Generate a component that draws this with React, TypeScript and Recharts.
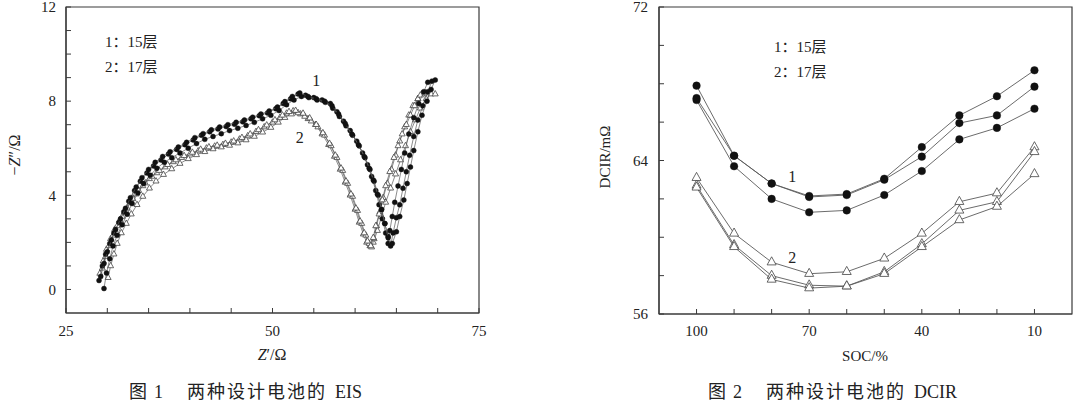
import React from 'react';
import {
  ComposedChart,
  Scatter,
  XAxis,
  YAxis,
  ReferenceArea,
  ReferenceDot,
} from 'recharts';

const SERIF = "'Liberation Serif', Tinos, 'DejaVu Serif', serif, 'Noto Sans CJK SC'";
const AXIS = '#3a3a3a';
const LINE = '#5a5a5a';
const TEXT = '#222';

// ---- 图1 EIS：Z' / -Z''（Ω），15层（实心圆）3只，17层（空心三角）3只 ----
const eisXTicks = [25, 30, 35, 40, 45, 50, 55, 60, 65, 70, 75];
const eisXLabels = [25, 50, 75];
const eisYTicks = [0, 1, 2, 3, 4, 5, 6, 7, 8, 9, 10, 11, 12];
const eisYLabels = [0, 4, 8, 12];

const re15a = [29.0, 29.4, 29.8, 30.3, 30.8, 31.4, 32.0, 32.6, 33.3, 34.0, 34.8, 35.6, 36.5, 37.4, 38.4, 39.4, 40.4, 41.4, 42.4, 43.4, 44.4, 45.4, 46.4, 47.4, 48.4, 49.4, 50.4, 51.3, 52.2, 53.1, 54.0, 55.0, 56.0, 57.0, 57.8, 58.6, 59.4, 60.2, 60.9, 61.5, 62.0, 62.5, 62.9, 63.3, 63.7, 64.0, 64.2, 64.5, 64.8, 65.2, 65.6, 66.0, 66.5, 67.1, 67.7, 68.3, 68.8];
const im15a = [0.38, 1.0, 1.5, 1.95, 2.4, 2.85, 3.3, 3.75, 4.2, 4.6, 4.95, 5.25, 5.5, 5.75, 5.95, 6.15, 6.35, 6.55, 6.7, 6.82, 6.92, 7.02, 7.12, 7.25, 7.38, 7.5, 7.68, 7.9, 8.1, 8.3, 8.25, 8.15, 8.05, 7.9, 7.55, 7.15, 6.75, 6.3, 5.8, 5.3, 4.8, 4.2, 3.6, 3.0, 2.4, 1.95, 2.5, 3.1, 3.7, 4.4, 5.1, 5.8, 6.6, 7.3, 7.9, 8.4, 8.8];

const re15b = [29.6, 29.9, 30.3, 30.7, 31.2, 31.8, 32.4, 33.0, 33.7, 34.4, 35.2, 36.0, 36.9, 37.8, 38.8, 39.8, 40.8, 41.8, 42.8, 43.8, 44.8, 45.8, 46.8, 47.8, 48.8, 49.8, 50.8, 51.7, 52.6, 53.5, 54.4, 55.4, 56.4, 57.3, 58.1, 58.9, 59.7, 60.5, 61.2, 61.8, 62.3, 62.8, 63.2, 63.6, 64.0, 64.3, 64.6, 65.0, 65.4, 65.8, 66.2, 66.6, 67.1, 67.6, 68.2, 68.8, 69.3];
const im15b = [0.04, 0.7, 1.3, 1.85, 2.3, 2.75, 3.2, 3.65, 4.1, 4.5, 4.85, 5.15, 5.4, 5.6, 5.8, 6.0, 6.2, 6.38, 6.5, 6.62, 6.75, 6.85, 6.97, 7.1, 7.25, 7.4, 7.6, 7.85, 8.05, 8.2, 8.15, 8.05, 7.95, 7.7, 7.35, 6.95, 6.55, 6.1, 5.6, 5.1, 4.6, 4.0, 3.4, 2.8, 2.25, 1.85, 2.4, 3.05, 3.6, 4.3, 5.0, 5.7, 6.5, 7.2, 7.8, 8.4, 8.85];

const re15c = [29.2, 29.6, 30.0, 30.5, 31.0, 31.6, 32.2, 32.8, 33.5, 34.2, 35.0, 35.8, 36.7, 37.6, 38.6, 39.6, 40.6, 41.6, 42.6, 43.6, 44.6, 45.6, 46.6, 47.6, 48.6, 49.6, 50.6, 51.5, 52.4, 53.3, 54.3, 55.3, 56.3, 57.2, 58.0, 58.8, 59.6, 60.4, 61.1, 61.7, 62.2, 62.7, 63.2, 63.6, 64.0, 64.5, 65.0, 65.4, 65.9, 66.3, 66.7, 67.1, 67.6, 68.1, 68.7, 69.2, 69.7];
const im15c = [0.55, 1.1, 1.6, 2.1, 2.55, 3.0, 3.45, 3.9, 4.35, 4.75, 5.1, 5.4, 5.65, 5.85, 6.05, 6.25, 6.45, 6.62, 6.78, 6.9, 7.0, 7.1, 7.2, 7.32, 7.45, 7.58, 7.75, 7.98, 8.2, 8.35, 8.2, 8.1, 8.0, 7.8, 7.45, 7.05, 6.6, 6.15, 5.65, 5.15, 4.65, 4.05, 3.4, 2.8, 2.2, 1.95, 2.45, 3.1, 3.8, 4.5, 5.2, 5.9, 6.7, 7.4, 8.0, 8.5, 8.9];

const re17a = [29.1, 29.5, 29.9, 30.4, 30.9, 31.5, 32.1, 32.8, 33.5, 34.3, 35.1, 36.0, 37.0, 38.0, 39.0, 40.0, 41.0, 42.0, 43.0, 44.0, 45.0, 46.0, 47.0, 48.0, 49.0, 50.0, 50.9, 51.7, 52.5, 53.4, 54.3, 55.2, 56.0, 56.8, 57.5, 58.2, 58.8, 59.4, 60.0, 60.5, 61.0, 61.4, 61.8, 62.2, 62.7, 63.2, 63.7, 64.3, 64.9, 65.5, 66.1, 66.7, 67.3, 67.9, 68.6, 69.2, 69.7];
const im17a = [0.68, 1.2, 1.7, 2.15, 2.55, 2.95, 3.3, 3.7, 4.05, 4.4, 4.7, 4.95, 5.2, 5.42, 5.6, 5.75, 5.88, 6.0, 6.08, 6.15, 6.25, 6.38, 6.52, 6.7, 6.9, 7.1, 7.3, 7.48, 7.58, 7.45, 7.25, 7.0, 6.6, 6.15, 5.65, 5.1, 4.55, 4.0, 3.4, 2.85, 2.35, 2.0, 1.85, 2.0, 2.5, 3.1, 3.7, 4.3, 4.9, 5.5, 6.1, 6.7, 7.2, 7.7, 8.1, 8.3, 8.3];

const re17b = [30.1, 30.4, 30.8, 31.2, 31.7, 32.3, 32.9, 33.6, 34.3, 35.1, 35.9, 36.8, 37.8, 38.8, 39.8, 40.8, 41.8, 42.8, 43.8, 44.8, 45.8, 46.8, 47.8, 48.8, 49.8, 50.7, 51.5, 52.3, 53.1, 53.9, 54.7, 55.5, 56.3, 57.1, 57.8, 58.5, 59.1, 59.7, 60.3, 60.8, 61.3, 61.7, 62.0, 62.3, 62.6, 63.0, 63.4, 63.9, 64.4, 64.9, 65.4, 66.0, 66.5, 67.0, 67.6, 68.1, 68.5];
const im17b = [0.5, 1.0, 1.5, 1.95, 2.4, 2.8, 3.2, 3.6, 3.95, 4.3, 4.6, 4.88, 5.12, 5.35, 5.55, 5.72, 5.85, 5.97, 6.05, 6.12, 6.22, 6.35, 6.5, 6.68, 6.88, 7.1, 7.3, 7.45, 7.5, 7.35, 7.15, 6.9, 6.55, 6.1, 5.6, 5.05, 4.5, 3.95, 3.35, 2.8, 2.3, 1.95, 1.8, 2.15, 2.7, 3.3, 3.9, 4.5, 5.1, 5.7, 6.3, 6.9, 7.4, 7.8, 8.1, 8.3, 8.35];

const re17c = [29.4, 29.8, 30.2, 30.7, 31.2, 31.8, 32.4, 33.1, 33.8, 34.6, 35.4, 36.3, 37.3, 38.3, 39.3, 40.3, 41.3, 42.3, 43.3, 44.3, 45.3, 46.3, 47.3, 48.3, 49.3, 50.3, 51.2, 52.0, 52.8, 53.7, 54.5, 55.3, 56.1, 56.9, 57.6, 58.3, 58.9, 59.5, 60.1, 60.6, 61.1, 61.5, 61.9, 62.2, 62.5, 62.9, 63.3, 63.7, 64.2, 64.7, 65.2, 65.7, 66.2, 66.7, 67.2, 67.6, 67.9];
const im17c = [0.9, 1.4, 1.85, 2.3, 2.7, 3.1, 3.45, 3.85, 4.2, 4.52, 4.8, 5.05, 5.3, 5.5, 5.68, 5.82, 5.95, 6.05, 6.12, 6.2, 6.3, 6.45, 6.6, 6.78, 6.98, 7.2, 7.4, 7.55, 7.6, 7.48, 7.28, 7.0, 6.65, 6.2, 5.7, 5.15, 4.6, 4.05, 3.45, 2.9, 2.4, 2.05, 1.85, 2.2, 2.7, 3.2, 3.8, 4.4, 5.0, 5.6, 6.1, 6.6, 7.0, 7.4, 7.8, 8.1, 8.25];

// ---- 图2 DCIR：SOC/%（横轴反向），DCIR/mΩ ----
const soc = [100, 90, 80, 70, 60, 50, 40, 30, 20, 10];
const socTicks = [100, 90, 80, 70, 60, 50, 40, 30, 20, 10];
const socLabels = [100, 70, 40, 10];
const dcirTicks = [56, 58, 60, 62, 64, 66, 68, 70, 72];
const dcirLabels = [56, 64, 72];

const dcir15a = [67.9, 64.25, 62.8, 62.15, 62.25, 63.05, 64.7, 66.35, 67.35, 68.7];
const dcir15b = [67.25, 64.25, 62.8, 62.1, 62.2, 63.0, 64.2, 65.95, 66.35, 67.85];
const dcir15c = [67.15, 63.7, 62.0, 61.3, 61.4, 62.2, 63.45, 65.1, 65.7, 66.7];
const dcir17a = [63.1, 60.2, 58.7, 58.1, 58.2, 58.9, 60.2, 61.85, 62.3, 64.7];
const dcir17b = [62.7, 59.6, 58.0, 57.5, 57.45, 58.2, 59.65, 61.4, 61.85, 64.45];
const dcir17c = [62.6, 59.5, 57.8, 57.35, 57.45, 58.1, 59.5, 60.9, 61.6, 63.3];

const pairs = (xs: number[], ys: number[]) => xs.map((x, i) => ({ x, y: ys[i] }));

const dotShape = (r: number) => (p: any) => (
  <circle cx={p.cx} cy={p.cy} r={r} fill="#111" stroke="#111" strokeWidth={0.4} />
);

const triShape = (s: number) => (p: any) => {
  const { cx, cy } = p;
  const h = s * 0.9;
  const pts = `${cx},${cy - (h * 2) / 3} ${cx - s / 2},${cy + h / 3} ${cx + s / 2},${cy + h / 3}`;
  return <polygon points={pts} fill="#fff" stroke="#444" strokeWidth={0.8} />;
};

const tickStyle = { fill: TEXT, fontSize: 15, style: { fontFamily: SERIF } };
const labelFmt = (keep: number[]) => (v: number) => (keep.includes(v) ? String(v) : '');
const curveLabel = (value: string) => ({
  value,
  position: 'center' as const,
  fontSize: 16,
  fill: TEXT,
  style: { fontFamily: SERIF },
});

const EisChart = () => {
  const circles = [pairs(re15a, im15a), pairs(re15b, im15b), pairs(re15c, im15c)];
  const triangles = [pairs(re17a, im17a), pairs(re17b, im17b), pairs(re17c, im17c)];
  return (
    <ComposedChart width={540} height={404} margin={{ top: 7, right: 61, bottom: 61, left: 0 }}>
      <XAxis
        type="number"
        dataKey="x"
        domain={[25, 75]}
        ticks={eisXTicks}
        interval={0}
        tickFormatter={labelFmt(eisXLabels)}
        tickSize={-5}
        tickMargin={17}
        height={30}
        tick={tickStyle}
        axisLine={{ stroke: AXIS, strokeWidth: 1.2 }}
        tickLine={{ stroke: AXIS }}
        allowDataOverflow
      />
      <YAxis
        type="number"
        dataKey="y"
        domain={[-1, 12]}
        ticks={eisYTicks}
        interval={0}
        tickFormatter={labelFmt(eisYLabels)}
        tickSize={-5}
        tickMargin={15}
        width={66}
        tick={tickStyle}
        axisLine={{ stroke: AXIS, strokeWidth: 1.2 }}
        tickLine={{ stroke: AXIS }}
        allowDataOverflow
      />
      <ReferenceArea x1={25} x2={75} y1={-1} y2={12} fill="none" stroke={AXIS} strokeWidth={1.2} />
      {triangles.map((d, i) => (
        <Scatter
          key={`t${i}`}
          data={d}
          line={{ stroke: LINE, strokeWidth: 0.7 }}
          lineType="joint"
          shape={triShape(6)}
          isAnimationActive={false}
        />
      ))}
      {circles.map((d, i) => (
        <Scatter
          key={`c${i}`}
          data={d}
          line={{ stroke: LINE, strokeWidth: 0.7 }}
          lineType="joint"
          shape={dotShape(2.5)}
          isAnimationActive={false}
        />
      ))}
      <ReferenceDot x={55.3} y={8.9} r={0} fill="none" stroke="none" label={curveLabel('1')} />
      <ReferenceDot x={53.3} y={6.45} r={0} fill="none" stroke="none" label={curveLabel('2')} />
    </ComposedChart>
  );
};

const DcirChart = () => {
  const circles = [dcir15a, dcir15b, dcir15c].map((v) => pairs(soc, v));
  const triangles = [dcir17a, dcir17b, dcir17c].map((v) => pairs(soc, v));
  return (
    <ComposedChart width={540} height={404} margin={{ top: 7, right: 8, bottom: 60, left: 53 }}>
      <XAxis
        type="number"
        dataKey="x"
        domain={[0, 110]}
        reversed
        ticks={socTicks}
        interval={0}
        tickFormatter={labelFmt(socLabels)}
        tickSize={-5}
        tickMargin={16}
        height={30}
        tick={tickStyle}
        axisLine={{ stroke: AXIS, strokeWidth: 1.2 }}
        tickLine={{ stroke: AXIS }}
        allowDataOverflow
      />
      <YAxis
        type="number"
        dataKey="y"
        domain={[56, 72]}
        ticks={dcirTicks}
        interval={0}
        tickFormatter={labelFmt(dcirLabels)}
        tickSize={-5}
        tickMargin={16}
        width={66}
        tick={tickStyle}
        axisLine={{ stroke: AXIS, strokeWidth: 1.2 }}
        tickLine={{ stroke: AXIS }}
        allowDataOverflow
      />
      <ReferenceArea x1={0} x2={110} y1={56} y2={72} fill="none" stroke={AXIS} strokeWidth={1.2} />
      {triangles.map((d, i) => (
        <Scatter
          key={`t${i}`}
          data={d}
          line={{ stroke: LINE, strokeWidth: 0.9 }}
          lineType="joint"
          shape={triShape(9)}
          isAnimationActive={false}
        />
      ))}
      {circles.map((d, i) => (
        <Scatter
          key={`c${i}`}
          data={d}
          line={{ stroke: LINE, strokeWidth: 0.9 }}
          lineType="joint"
          shape={dotShape(3.8)}
          isAnimationActive={false}
        />
      ))}
      <ReferenceDot x={74.5} y={63.15} r={0} fill="none" stroke="none" label={curveLabel('1')} />
      <ReferenceDot x={74.5} y={58.95} r={0} fill="none" stroke="none" label={curveLabel('2')} />
    </ComposedChart>
  );
};

export default function App() {
  return (
    <div style={{ position: 'absolute', left: 0, top: 0, width: 1080, height: 404, background: '#fff', fontFamily: SERIF }}>
      <div style={{ position: 'absolute', left: 0, top: 0 }}>
        <EisChart />
      </div>
      <div style={{ position: 'absolute', left: 540, top: 0 }}>
        <DcirChart />
      </div>
      <svg width={1080} height={404} style={{ position: 'absolute', left: 0, top: 0, pointerEvents: 'none', fontFamily: SERIF }}>
        <g fill={TEXT} fontSize={15}>
          <text x={105} y={47}>1：15层</text>
          <text x={105} y={72}>2：17层</text>
          <text x={774} y={52}>1：15层</text>
          <text x={774} y={77}>2：17层</text>
          <text transform="translate(20,155) rotate(-90)" textAnchor="middle" fontSize={16}>
            −<tspan fontStyle="italic">Z</tspan>″/Ω
          </text>
          <text x={272} y={360} textAnchor="middle" fontSize={16}>
            <tspan fontStyle="italic">Z</tspan>′/Ω
          </text>
          <text transform="translate(610,157) rotate(-90)" textAnchor="middle" fontSize={15}>DCIR/mΩ</text>
          <text x={865} y={361} textAnchor="middle" fontSize={15}>SOC/%</text>
        </g>
        <g fill={TEXT} fontSize={18}>
          <text y={398}>
            <tspan x={129}>图</tspan>
            <tspan x={154}>1</tspan>
            <tspan x={187} letterSpacing={2}>两种设计电池的</tspan>
            <tspan x={335}>EIS</tspan>
          </text>
          <text y={398}>
            <tspan x={708}>图</tspan>
            <tspan x={733}>2</tspan>
            <tspan x={766} letterSpacing={2}>两种设计电池的</tspan>
            <tspan x={914}>DCIR</tspan>
          </text>
        </g>
      </svg>
    </div>
  );
}
